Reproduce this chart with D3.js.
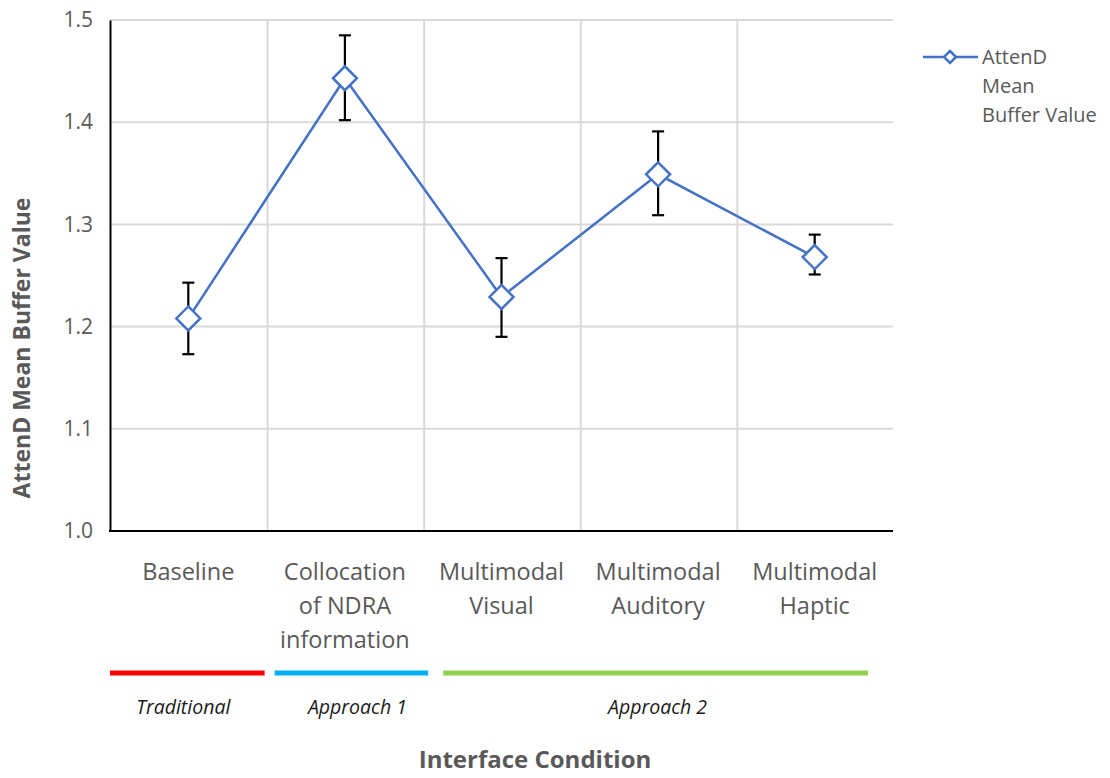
<!DOCTYPE html>
<html><head><meta charset="utf-8">
<script src="https://cdn.jsdelivr.net/npm/d3@7"></script>
<style>body{margin:0;background:#fff}svg{display:block}text{font-family:"Open Sans","Noto Sans",sans-serif}</style>
</head><body><svg id="c" width="1110" height="778"></svg>
<script>
const categories = [["Baseline"],["Collocation","of NDRA","information"],["Multimodal","Visual"],["Multimodal","Auditory"],["Multimodal","Haptic"]];
const means = [1.208, 1.443, 1.229, 1.349, 1.268];
const errUpper = [1.243, 1.485, 1.267, 1.391, 1.290];
const errLower = [1.173, 1.402, 1.190, 1.309, 1.251];
const yTicks = [1.0, 1.1, 1.2, 1.3, 1.4, 1.5];
const groups = [{label:"Traditional", from:0, to:0, color:"#ff0000"},{label:"Approach 1", from:1, to:1, color:"#00b0f0"},{label:"Approach 2", from:2, to:4, color:"#92d050"}];
const legendLines = ["AttenD","Mean","Buffer Value"];

const svg = d3.select("#c");
const L=110,R=893,T=20,B=531;
const x = d3.scaleBand().domain(d3.range(categories.length)).range([L,R]);
const y = d3.scaleLinear().domain([1.0,1.5]).range([B,T]);
const grey="#595959";

// gridlines
svg.append("g").selectAll("line").data(yTicks.slice(1)).join("line")
  .attr("x1",L).attr("x2",R).attr("y1",d=>y(d)).attr("y2",d=>y(d))
  .attr("stroke","#d9d9d9").attr("stroke-width",2);
svg.append("g").selectAll("line").data(d3.range(1,categories.length)).join("line")
  .attr("x1",d=>x(d)+1).attr("x2",d=>x(d)+1).attr("y1",T).attr("y2",B)
  .attr("stroke","#d9d9d9").attr("stroke-width",2);

// axes
const yAxis = svg.append("g").attr("transform",`translate(${L},0)`)
  .call(d3.axisLeft(y).tickValues(yTicks).tickFormat(d3.format(".1f")).tickSize(0).tickPadding(17));
yAxis.select(".domain").attr("stroke","#000").attr("stroke-width",2);
yAxis.selectAll("text").attr("font-size",21).attr("fill",grey);
svg.append("line").attr("x1",L-1).attr("x2",R).attr("y1",B).attr("y2",B).attr("stroke","#000").attr("stroke-width",2);

// category labels
const cat = svg.append("g");
categories.forEach((lines,i)=>{
  const t = cat.append("text").attr("text-anchor","middle").attr("font-size",23.5).attr("fill",grey);
  lines.forEach((ln,j)=>t.append("tspan").attr("x",x(i)+x.bandwidth()/2).attr("y",580+j*34).text(ln));
});

// y title
svg.append("text").attr("transform",`translate(30,348) rotate(-90)`).attr("text-anchor","middle")
  .attr("font-size",23).attr("font-weight","bold").attr("fill",grey).text("AttenD Mean Buffer Value");

// error bars
const eb = svg.append("g").attr("stroke","#000").attr("stroke-width",2.2);
means.forEach((m,i)=>{
  const cx = x(i)+x.bandwidth()/2;
  eb.append("line").attr("x1",cx).attr("x2",cx).attr("y1",y(errUpper[i])).attr("y2",y(errLower[i]));
  eb.append("line").attr("x1",cx-6).attr("x2",cx+6).attr("y1",y(errUpper[i])).attr("y2",y(errUpper[i]));
  eb.append("line").attr("x1",cx-6).attr("x2",cx+6).attr("y1",y(errLower[i])).attr("y2",y(errLower[i]));
});

// line
const line = d3.line().x((d,i)=>x(i)+x.bandwidth()/2).y(d=>y(d));
svg.append("path").datum(means).attr("d",line).attr("fill","none").attr("stroke","#4472c4").attr("stroke-width",2.5);
const diamond = s=>`M0,${-s}L${s},0L0,${s}L${-s},0Z`;
svg.append("g").selectAll("path").data(means).join("path")
  .attr("transform",(d,i)=>`translate(${x(i)+x.bandwidth()/2},${y(d)})`)
  .attr("d",diamond(12)).attr("fill","#fff").attr("stroke","#4472c4").attr("stroke-width",2.5);

// groups
const startPad=[0,8,20], endPad=[2,-5,25];
const labelShift=[-4,6,2];
groups.forEach((g,k)=>{
  const x1 = x(g.from) + startPad[k];
  const x2 = x(g.to)+x.bandwidth() - endPad[k];
  svg.append("line").attr("x1",x1).attr("x2",x2).attr("y1",673).attr("y2",673).attr("stroke",g.color).attr("stroke-width",5);
  svg.append("text").attr("x",(x1+x2)/2 + labelShift[k]).attr("y",714).attr("text-anchor","middle")
    .attr("font-size",19.5).attr("font-style","italic").attr("fill","#1a1a1a").text(g.label);
});

svg.append("text").attr("x",535).attr("y",768).attr("text-anchor","middle").attr("font-size",24)
  .attr("font-weight","bold").attr("fill",grey).text("Interface Condition");

// legend
const lg = svg.append("g");
lg.append("line").attr("x1",923).attr("x2",978).attr("y1",57).attr("y2",57).attr("stroke","#4472c4").attr("stroke-width",2.5);
lg.append("path").attr("transform","translate(950,57)").attr("d",diamond(6)).attr("fill","#fff").attr("stroke","#4472c4").attr("stroke-width",2.5);
legendLines.forEach((t,i)=>lg.append("text").attr("x",982).attr("y",64+i*29).attr("font-size",20).attr("fill",grey).text(t));
</script></body></html>
